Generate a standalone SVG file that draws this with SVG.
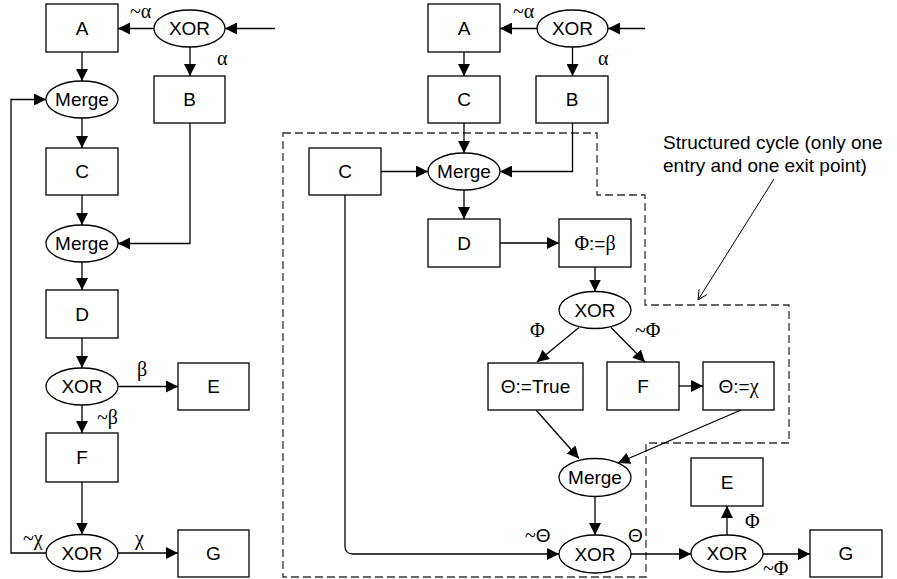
<svg xmlns="http://www.w3.org/2000/svg" width="897" height="579" viewBox="0 0 897 579">
<defs>
<marker id="ah" viewBox="0 0 12 12" markerWidth="12" markerHeight="12" markerUnits="userSpaceOnUse" refX="12" refY="6" orient="auto"><path d="M0,0 L12,6 L0,12 z" fill="#000"/></marker>
<marker id="oh" viewBox="0 0 10 10" markerWidth="10" markerHeight="10" markerUnits="userSpaceOnUse" refX="10" refY="5" orient="auto"><path d="M0,0 L10,5 L0,10" fill="none" stroke="#000" stroke-width="1"/></marker>
<style>
rect,ellipse{fill:#fff;stroke:#000;stroke-width:1.3}
.c path{fill:none;stroke:#000;stroke-width:1.3;marker-end:url(#ah)}
text{font-family:"Liberation Sans",Arial,sans-serif;font-size:19px;fill:#000}
.t{text-anchor:middle}
text.g,tspan.g{font-family:"Liberation Serif","Times New Roman",serif;font-size:20px}
tspan.s,text.s{font-family:"Liberation Sans",Arial,sans-serif;font-size:19px}
.dash{fill:none;stroke:#333;stroke-width:1.3;stroke-dasharray:8,4}
</style>
</defs>
<polygon class="dash" points="283,133 597,133 597,195 645,195 645,305 789,305 789,443 646,443 646,577 283,577"/>
<g class="c" id="connectors">
<path d="M275,28.5 H225"/>
<path d="M154,28.5 H118"/>
<path d="M190,47 V76"/>
<path d="M82,52 V81"/>
<path d="M82,118 V148"/>
<path d="M82,195 V225"/>
<path d="M190,123 V243.5 H118"/>
<path d="M82,262 V290"/>
<path d="M82,338 V368"/>
<path d="M118,386.5 H178"/>
<path d="M82,405 V433"/>
<path d="M82,482 V534.5"/>
<path d="M118,553 H178"/>
<path d="M46,553 H11 V99.5 H46"/>
<path d="M645,28.5 H608"/>
<path d="M537,28.5 H500"/>
<path d="M572.5,47 V76"/>
<path d="M464,52 V76"/>
<path d="M464,123 V153"/>
<path d="M572.5,123 V171.5 H500"/>
<path d="M381,171.5 H428"/>
<path d="M464,190 V219"/>
<path d="M500,243 H559"/>
<path d="M595,267 V291.5"/>
<path d="M579,327.5 L537,362"/>
<path d="M611,327.5 L645,362"/>
<path d="M679,386 H703"/>
<path d="M536,410 L579,458.5"/>
<path d="M741,410 L618,463"/>
<path d="M595,496.5 V535"/>
<path d="M345,195 V546 Q345,554 353,554 H559"/>
<path d="M631,554 H691"/>
<path d="M727,535 V506"/>
<path d="M763,554 H810"/>
<path d="M774,179 L698,300" style="stroke-width:1;marker-end:url(#oh)"/>
</g>
<g id="L_A"><rect x="46" y="4" width="72" height="48"/><text class="t" x="82" y="35">A</text></g>
<g id="L_XOR1"><ellipse cx="189.5" cy="28.5" rx="35.5" ry="18.5"/><text class="t" x="189.5" y="35">XOR</text></g>
<g id="L_B"><rect x="154" y="76" width="71" height="47"/><text class="t" x="189.5" y="106">B</text></g>
<g id="L_Merge1"><ellipse cx="82" cy="99.5" rx="36" ry="18.5"/><text class="t" x="82" y="106">Merge</text></g>
<g id="L_C"><rect x="46" y="148" width="72" height="47"/><text class="t" x="82" y="178">C</text></g>
<g id="L_Merge2"><ellipse cx="82" cy="243.5" rx="36" ry="18.5"/><text class="t" x="82" y="250">Merge</text></g>
<g id="L_D"><rect x="46" y="290" width="72" height="48"/><text class="t" x="82" y="321">D</text></g>
<g id="L_XOR2"><ellipse cx="82" cy="386.5" rx="36" ry="18.5"/><text class="t" x="82" y="393">XOR</text></g>
<g id="L_E"><rect x="178" y="363" width="71" height="47"/><text class="t" x="213.5" y="393">E</text></g>
<g id="L_F"><rect x="46" y="433" width="72" height="49"/><text class="t" x="82" y="464">F</text></g>
<g id="L_XOR3"><ellipse cx="82" cy="553" rx="36" ry="18.5"/><text class="t" x="82" y="560">XOR</text></g>
<g id="L_G"><rect x="178" y="530" width="71" height="47"/><text class="t" x="213.5" y="560">G</text></g>
<g id="R_A"><rect x="428" y="4" width="72" height="48"/><text class="t" x="464" y="35">A</text></g>
<g id="R_XOR1"><ellipse cx="572.5" cy="28.5" rx="35.5" ry="18.5"/><text class="t" x="572.5" y="35">XOR</text></g>
<g id="R_C1"><rect x="428" y="76" width="72" height="47"/><text class="t" x="464" y="106">C</text></g>
<g id="R_B"><rect x="536" y="76" width="72" height="47"/><text class="t" x="572" y="106">B</text></g>
<g id="R_C2"><rect x="309" y="148" width="72" height="47"/><text class="t" x="345" y="178">C</text></g>
<g id="R_Merge1"><ellipse cx="464" cy="171.5" rx="36" ry="18.5"/><text class="t" x="464" y="178">Merge</text></g>
<g id="R_D"><rect x="428" y="219" width="72" height="48"/><text class="t" x="464" y="250">D</text></g>
<g id="R_PhiBeta"><rect x="559" y="219" width="72" height="48"/><text class="t" x="595" y="250"><tspan class="g">Φ</tspan>:=<tspan class="g">β</tspan></text></g>
<g id="R_XOR2"><ellipse cx="595" cy="310" rx="36" ry="18.5"/><text class="t" x="595" y="317">XOR</text></g>
<g id="R_ThetaTrue"><rect x="488" y="363" width="95" height="47"/><text class="t" x="535.5" y="393">Θ:=True</text></g>
<g id="R_F"><rect x="607" y="362" width="72" height="48"/><text class="t" x="643" y="393">F</text></g>
<g id="R_ThetaChi"><rect x="703" y="362" width="71" height="48"/><text class="t" x="738.5" y="393">Θ:=<tspan class="g">χ</tspan></text></g>
<g id="R_Merge2"><ellipse cx="595" cy="477.5" rx="36" ry="19"/><text class="t" x="595" y="484">Merge</text></g>
<g id="R_XOR3"><ellipse cx="595" cy="554" rx="36" ry="19"/><text class="t" x="595" y="561">XOR</text></g>
<g id="R_XOR4"><ellipse cx="727" cy="553.5" rx="36" ry="18.5"/><text class="t" x="727" y="560">XOR</text></g>
<g id="R_E"><rect x="691" y="458" width="72" height="48"/><text class="t" x="727" y="489">E</text></g>
<g id="R_G"><rect x="810" y="530" width="72" height="47"/><text class="t" x="846" y="560">G</text></g>
<g id="labels">
<text class="g" x="130" y="18">~α</text>
<text class="g" x="217" y="65">α</text>
<text class="g" x="137" y="376">β</text>
<text class="g" x="97" y="424">~β</text>
<text class="g" x="23" y="545">~χ</text>
<text class="g" x="135" y="545">χ</text>
<text class="g" x="513" y="18">~α</text>
<text class="g" x="598" y="65">α</text>
<text class="g" x="530" y="337">Φ</text>
<text class="g" x="635" y="337">~Φ</text>
<text class="g" x="525" y="542">~<tspan class="s">Θ</tspan></text>
<text class="s" x="628" y="542">Θ</text>
<text class="g" x="745" y="528">Φ</text>
<text class="g" x="763" y="575">~Φ</text>
</g>
<g id="annotation">
<text x="663" y="149">Structured cycle (only one</text>
<text x="663" y="172">entry and one exit point)</text>
</g>
</svg>
